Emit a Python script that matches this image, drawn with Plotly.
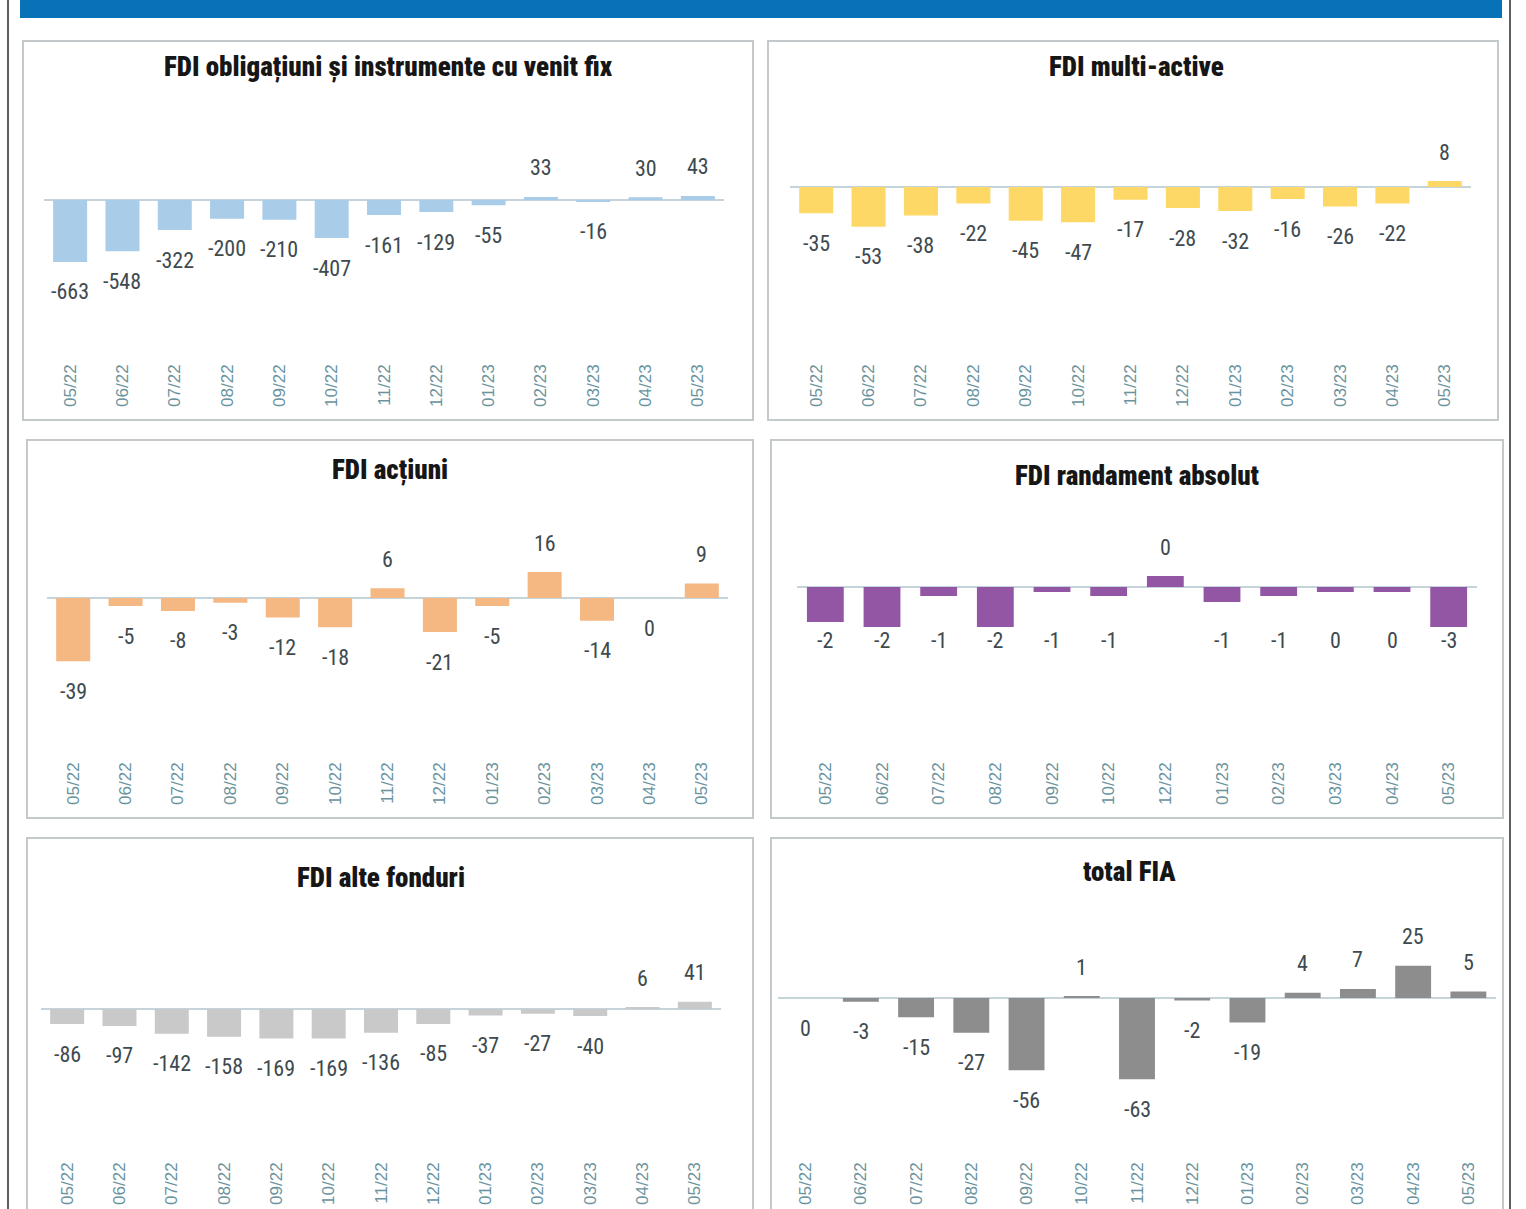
import plotly.graph_objects as go

W, H = 1526, 1209

# ---------------- data ----------------
months = ["05/22", "06/22", "07/22", "08/22", "09/22", "10/22", "11/22",
          "12/22", "01/23", "02/23", "03/23", "04/23", "05/23"]
months_randament = ["05/22", "06/22", "07/22", "08/22", "09/22", "10/22",
                    "12/22", "01/23", "02/23", "03/23", "04/23", "05/23"]

obligatiuni = [-663, -548, -322, -200, -210, -407, -161, -129, -55, 33, -16, 30, 43]
multi_active = [-35, -53, -38, -22, -45, -47, -17, -28, -32, -16, -26, -22, 8]
actiuni = [-39, -5, -8, -3, -12, -18, 6, -21, -5, 16, -14, 0, 9]
randament = [-1.75, -2.0, -0.45, -2.0, -0.25, -0.45, 0.55, -0.75, -0.45, -0.25, -0.25, -2.0]
randament_labels = ["-2", "-2", "-1", "-2", "-1", "-1", "0", "-1", "-1", "0", "0", "-3"]
alte_fonduri = [-86, -97, -142, -158, -169, -169, -136, -85, -37, -27, -40, 6, 41]
total_fia = [0, -3, -15, -27, -56, 1, -63, -2, -19, 4, 7, 25, 5]

titles = ["FDI obligațiuni și instrumente cu venit fix", "FDI multi-active",
          "FDI acțiuni", "FDI randament absolut", "FDI alte fonduri", "total FIA"]

# ---------------- layout (pixels) ----------------
panels = [
    dict(x=months, y=obligatiuni, labels=None, color="#A9CDE9",
         box=(23, 41, 753, 420), tpos=(388, 67), x0=44, x1=724, T=90, B=360, Z=200, s=0.0935),
    dict(x=months, y=multi_active, labels=None, color="#FDD866",
         box=(768, 41, 1498, 420), tpos=(1136, 67), x0=790, x1=1471, T=90, B=360, Z=187, s=0.75),
    dict(x=months, y=actiuni, labels=None, color="#F6B883",
         box=(27, 440, 753, 818), tpos=(390, 470), x0=47, x1=728, T=490, B=758, Z=598, s=1.62),
    dict(x=months_randament, y=randament, labels=randament_labels, color="#9256A5",
         box=(771, 440, 1503, 818), tpos=(1137, 476), x0=797, x1=1477, T=490, B=758, Z=587, s=20,
         neg_level=640),
    dict(x=months, y=alte_fonduri, labels=None, color="#C9C9C9",
         box=(27, 838, 753, 1230), tpos=(381, 878), x0=41, x1=721, T=900, B=1158, Z=1009, s=0.175),
    dict(x=months, y=total_fia, labels=None, color="#8D8D8D",
         box=(771, 838, 1503, 1230), tpos=(1129, 872), x0=778, x1=1496, T=900, B=1158, Z=998, s=1.29),
]

COND = "Roboto Condensed, Open Sans Condensed, DejaVu Sans Condensed, Liberation Sans Narrow, Arial Narrow"
LABEL_FONT = dict(family=COND + ", Liberation Sans, sans-serif", size=22, color="#3E4A4F")
TICK_FONT = dict(family="Liberation Sans, Arial, sans-serif", size=17, color="#6A939E")
TITLE_FONT = dict(family=COND + ", Liberation Sans, sans-serif", size=27, color="#161616",
                  weight=900)

fig = go.Figure()
shapes = []
annotations = []


def px_x(v):
    return v / W


def px_y(v):
    return 1 - v / H


for i, p in enumerate(panels, start=1):
    xa = "x" if i == 1 else f"x{i}"
    ya = "y" if i == 1 else f"y{i}"
    fig.add_trace(go.Bar(x=p["x"], y=p["y"], marker=dict(color=p["color"], line=dict(width=0)),
                         xaxis=xa, yaxis=ya, showlegend=False, hoverinfo="x+y"))
    ymin = -(p["B"] - p["Z"]) / p["s"]
    ymax = (p["Z"] - p["T"]) / p["s"]
    xkey = "xaxis" if i == 1 else f"xaxis{i}"
    ykey = "yaxis" if i == 1 else f"yaxis{i}"
    fig.update_layout(**{
        xkey: dict(domain=[px_x(p["x0"]), px_x(p["x1"])], anchor=ya, type="category",
                   showgrid=False, zeroline=False, showline=False, ticks="",
                   tickangle=-90, tickfont=TICK_FONT, fixedrange=True),
        ykey: dict(domain=[px_y(p["B"]), px_y(p["T"])], anchor=xa, range=[ymin, ymax],
                   showgrid=False, zeroline=True, zerolinecolor="#C5D3DB", zerolinewidth=1.5,
                   showticklabels=False, showline=False, ticks="", fixedrange=True),
    })
    labels = p["labels"] if p["labels"] is not None else [str(v) for v in p["y"]]
    for cx, v, lab in zip(p["x"], p["y"], labels):
        if v > 0:
            annotations.append(dict(x=cx, y=v, xref=xa, yref=ya, text=lab, showarrow=False,
                                    yshift=29, font=LABEL_FONT))
        elif "neg_level" in p:
            lvl = -(p["neg_level"] - p["Z"]) / p["s"]
            annotations.append(dict(x=cx, y=lvl, xref=xa, yref=ya, text=lab, showarrow=False,
                                    font=LABEL_FONT))
        else:
            annotations.append(dict(x=cx, y=v, xref=xa, yref=ya, text=lab, showarrow=False,
                                    yshift=-30, font=LABEL_FONT))
    annotations.append(dict(x=px_x(p["tpos"][0]), y=px_y(p["tpos"][1]), xref="paper", yref="paper",
                            text=titles[i-1], showarrow=False, font=TITLE_FONT,
                            xanchor="center", yanchor="middle"))
    bx0, by0, bx1, by1 = p["box"]
    shapes.append(dict(type="rect", xref="paper", yref="paper",
                       x0=px_x(bx0), x1=px_x(bx1), y0=px_y(by1), y1=px_y(by0),
                       line=dict(color="#C4C9CC", width=2), fillcolor="rgba(0,0,0,0)", layer="below"))

# top banner
shapes.append(dict(type="rect", xref="paper", yref="paper", x0=px_x(20), x1=px_x(1502),
                   y0=px_y(18), y1=1.02, line=dict(width=0), fillcolor="#0872B9", layer="below"))
# page frame lines
for xv in (8, 1510):
    shapes.append(dict(type="line", xref="paper", yref="paper", x0=px_x(xv), x1=px_x(xv),
                       y0=0, y1=1, line=dict(color="#2A2A2A", width=1.5)))

fig.update_layout(width=W, height=H, margin=dict(l=0, r=0, t=0, b=0),
                  paper_bgcolor="white", plot_bgcolor="rgba(0,0,0,0)",
                  bargap=0.35, shapes=shapes, annotations=annotations)

fig.write_html("out.html", config={"displayModeBar": False},
               post_script="document.body.style.margin='0';")
